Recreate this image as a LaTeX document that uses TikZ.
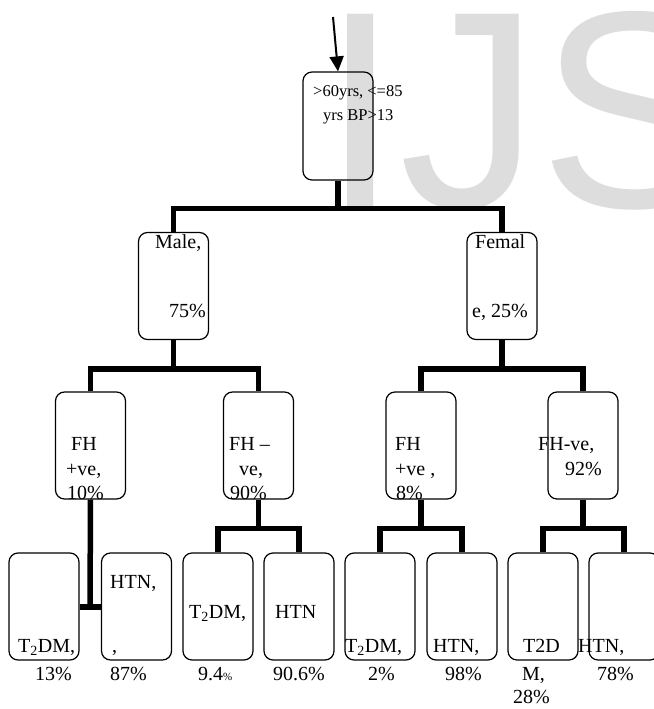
\documentclass[tikz,border=0pt]{standalone}
\usepackage{fontspec}
\setmainfont{Liberation Serif}
\newfontfamily\wmfont{Liberation Sans}
\usepackage{xcolor}
\usetikzlibrary{arrows.meta}
\definecolor{wmgray}{RGB}{221,221,221}

\begin{document}
\begin{tikzpicture}[
  x=1pt, y=-1pt,
  >={Triangle[length=15pt,width=14pt]},
  line join=miter,
  box/.style={draw, line width=1.2pt, rounded corners=9pt,
    minimum width=70pt, minimum height=107pt, inner sep=0pt},
  tree/.style={line width=5.5pt},
  lbl/.style={anchor=base west, inner sep=0pt, font=\fontsize{20}{24}\selectfont},
  toplbl/.style={anchor=base west, inner sep=0pt, font=\fontsize{16.5}{19}\selectfont}
]
  \useasboundingbox (0,0) rectangle (653,709);

  % Watermark
  \node[anchor=base west, inner sep=0pt, text=wmgray,
    font=\wmfont\fontsize{281}{281}\selectfont] (wm) at (321,207) {IJS};

  % Boxes
  \node[box, minimum height=108pt] (top) at (338,126) {};
  \node[box] (male)   at (173.5,286) {};
  \node[box] (female) at (502,286) {};

  \node[box] (fhpm) at (90.5,445.5) {};
  \node[box] (fhnm) at (258.5,445.5) {};
  \node[box] (fhpf) at (421,445.5) {};
  \node[box] (fhnf) at (583,445.5) {};

  \node[box] (pmdm)  at (44,606.5) {};
  \node[box] (pmhtn) at (136.5,606.5) {};
  \node[box] (nmdm)  at (218,606.5) {};
  \node[box] (nmhtn) at (299,606.5) {};
  \node[box] (pfdm)  at (380,606.5) {};
  \node[box] (pfhtn) at (462,606.5) {};
  \node[box] (nfdm)  at (543,606.5) {};
  \node[box] (nfhtn) at (624,606.5) {};

  % Entry arrow
  \coordinate (in) at (333,17);
  \draw[->, line width=2pt] (in) -- (top.north);

  % Tree connectors
  \draw[tree] (top.south) -- ++(0,28) coordinate (j0);
  \draw[tree] (male.north) |- (j0) -| (female.north);

  \draw[tree] (male.south) -- ++(0,29) coordinate (jm);
  \draw[tree] (fhpm.north) |- (jm) -| (fhnm.north);
  \draw[tree] (female.south) -- ++(0,29) coordinate (jf);
  \draw[tree] (fhpf.north) |- (jf) -| (fhnf.north);

  \coordinate (jpm) at (90,607);
  \draw[tree] (fhpm.south) -- (jpm);
  \draw[tree] (pmdm.east |- jpm) -- (pmhtn.west |- jpm);

  \draw[tree] (fhnm.south) -- ++(0,29) coordinate (jnm);
  \draw[tree] (nmdm.north) |- (jnm) -| (nmhtn.north);
  \draw[tree] (fhpf.south) -- ++(0,29) coordinate (jpf);
  \draw[tree] (pfdm.north) |- (jpf) -| (pfhtn.north);
  \draw[tree] (fhnf.south) -- ++(0,29) coordinate (jnf);
  \draw[tree] (nfdm.north) |- (jnf) -| (nfhtn.north);

  % Labels
  \node[toplbl] (t1) at (313,96)  {>60yrs, <=85};
  \node[toplbl] (t2) at (323,120) {yrs BP>13};

  \node[lbl] (m1) at (155,248) {Male,};
  \node[lbl] (m2) at (169,317) {75\%};
  \node[lbl] (f1) at (475,248) {Femal};
  \node[lbl] (f2) at (472,317) {e, 25\%};

  \node[lbl] (a1) at (71,450)  {FH};
  \node[lbl] (a2) at (66,475)  {+ve,};
  \node[lbl] (a3) at (67,499)  {10\%};
  \node[lbl] (b1) at (229,450) {FH --};
  \node[lbl] (b2) at (239,475) {ve,};
  \node[lbl] (b3) at (230,499) {90\%};
  \node[lbl] (c1) at (395,450) {FH};
  \node[lbl] (c2) at (395,475) {+ve ,};
  \node[lbl] (c3) at (396,499) {8\%};
  \node[lbl] (d1) at (538,450) {FH-ve,};
  \node[lbl] (d2) at (565,475) {92\%};

  \node[lbl] (e1) at (18,652)  {T\textsubscript{2}DM,};
  \node[lbl] (e2) at (35,680)  {13\%};
  \node[lbl] (g1) at (110,588) {HTN,};
  \node[lbl] (g2) at (112,652) {,};
  \node[lbl] (g3) at (110,680) {87\%};
  \node[lbl] (h1) at (189,618) {T\textsubscript{2}DM,};
  \node[lbl] (h2) at (198,680) {9.4{\fontsize{11}{11}\selectfont\%}};
  \node[lbl] (k1) at (275,618) {HTN};
  \node[lbl] (k2) at (273,680) {90.6\%};
  \node[lbl] (n1) at (345,652) {T\textsubscript{2}DM,};
  \node[lbl] (n2) at (368,680) {2\%};
  \node[lbl] (p1) at (433,652) {HTN,};
  \node[lbl] (p2) at (445,680) {98\%};
  \node[lbl] (q1) at (523,652) {T2D};
  \node[lbl] (q2) at (522,680) {M,};
  \node[lbl] (q3) at (513,703) {28\%};
  \node[lbl] (r1) at (578,652) {HTN,};
  \node[lbl] (r2) at (597,680) {78\%};
\end{tikzpicture}
\end{document}
